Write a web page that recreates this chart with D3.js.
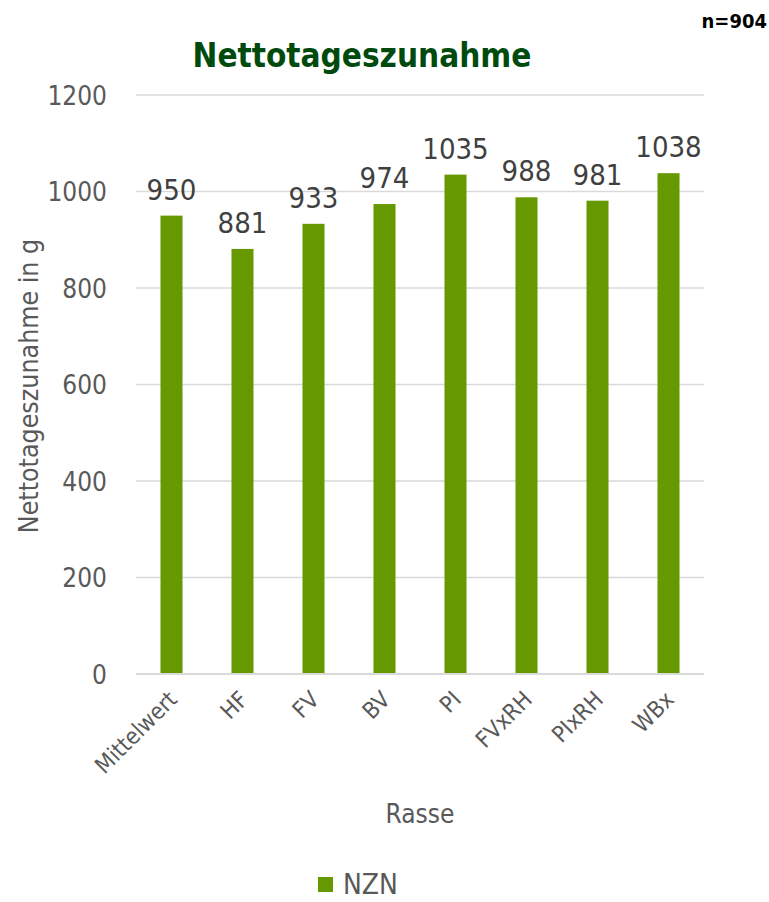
<!DOCTYPE html>
<html>
<head>
<meta charset="utf-8">
<script src="https://cdn.jsdelivr.net/npm/d3@7"></script>
<style>
  html, body { margin: 0; padding: 0; background: #fff; }
  svg { display: block; }
  text { font-family: "DejaVu Sans Condensed", "Liberation Sans Narrow", "DejaVu Sans", sans-serif; }
</style>
</head>
<body>
<svg id="chart" width="769" height="902"></svg>
<script>
// Net daily gain per breed
const categories = ["Mittelwert", "HF", "FV", "BV", "PI", "FVxRH", "PIxRH", "WBx"];
const values = [950, 881, 933, 974, 1035, 988, 981, 1038];
const yTicks = [0, 200, 400, 600, 800, 1000, 1200];
const seriesName = "NZN";

(function () {
  const svg = d3.select("#chart");
  const plotLeft = 136, plotRight = 704, plotTop = 95, plotBottom = 674;

  const x = d3.scaleBand().domain(categories).range([plotLeft, plotRight]).paddingInner(0.69).paddingOuter(0.345);
  const y = d3.scaleLinear().domain([0, 1200]).range([plotBottom, plotTop]);

  const green = "#669900";
  const gray = "#595959";

  // gridlines
  svg.append("g").selectAll("line").data(yTicks).join("line")
    .attr("x1", plotLeft).attr("x2", plotRight)
    .attr("y1", d => y(d)).attr("y2", d => y(d))
    .attr("stroke", "#d9d9d9").attr("stroke-width", 1.5);

  // y axis labels
  const yAxis = d3.axisLeft(y).tickValues(yTicks).tickSize(0).tickPadding(0).tickFormat(d3.format("d"));
  const ya = svg.append("g").attr("transform", `translate(${plotLeft - 29},0)`).call(yAxis);
  ya.select(".domain").remove();
  ya.attr("font-family", null).attr("font-size", null);
  ya.selectAll("text").attr("fill", gray).attr("font-size", 26).attr("dy", "0.36em");

  // bars
  svg.append("g").selectAll("rect").data(values).join("rect")
    .attr("x", (d, i) => x(categories[i]))
    .attr("width", x.bandwidth())
    .attr("y", d => y(d))
    .attr("height", d => y(0) - y(d))
    .attr("fill", green);

  // axis line at zero
  svg.append("line").attr("x1", plotLeft).attr("x2", plotRight)
    .attr("y1", y(0)).attr("y2", y(0)).attr("stroke", "#d9d9d9").attr("stroke-width", 2);

  // value labels
  svg.append("g").selectAll("text").data(values).join("text")
    .attr("x", (d, i) => x(categories[i]) + x.bandwidth() / 2)
    .attr("y", d => y(d) - 16)
    .attr("text-anchor", "middle")
    .attr("fill", "#404040")
    .attr("font-size", 29)
    .text(d => d);

  // category labels
  const xAxis = d3.axisBottom(x).tickSize(0).tickPadding(0);
  const xa = svg.append("g").attr("transform", `translate(0,${plotBottom})`).call(xAxis);
  xa.select(".domain").remove();
  xa.attr("font-family", null).attr("font-size", null);
  xa.selectAll("text")
    .attr("fill", gray).attr("font-size", 23)
    .attr("text-anchor", "end")
    .attr("dy", null).attr("y", 0)
    .attr("transform", "translate(7,27) rotate(-45)");

  // axis titles
  svg.append("text").attr("x", 420).attr("y", 823).attr("text-anchor", "middle")
    .attr("fill", gray).attr("font-size", 26).text("Rasse");
  svg.append("text").attr("transform", "translate(38,386) rotate(-90)")
    .attr("text-anchor", "middle").attr("fill", gray).attr("font-size", 26.5)
    .text("Nettotageszunahme in g");

  // title and sample size
  svg.append("text").attr("x", 362).attr("y", 67).attr("text-anchor", "middle")
    .attr("fill", "#004a0e").attr("font-size", 33).attr("font-weight", "bold")
    .text("Nettotageszunahme");
  svg.append("text").attr("x", 767).attr("y", 28).attr("text-anchor", "end")
    .attr("fill", "#000").attr("font-size", 20).attr("font-weight", "bold")
    .text("n=904");

  // legend
  const lg = svg.append("g").attr("transform", "translate(318,877)");
  lg.append("rect").attr("width", 15).attr("height", 15).attr("fill", green);
  lg.append("text").attr("x", 25).attr("y", 17).attr("fill", gray).attr("font-size", 28).text(seriesName);
})();
</script>
</body>
</html>
